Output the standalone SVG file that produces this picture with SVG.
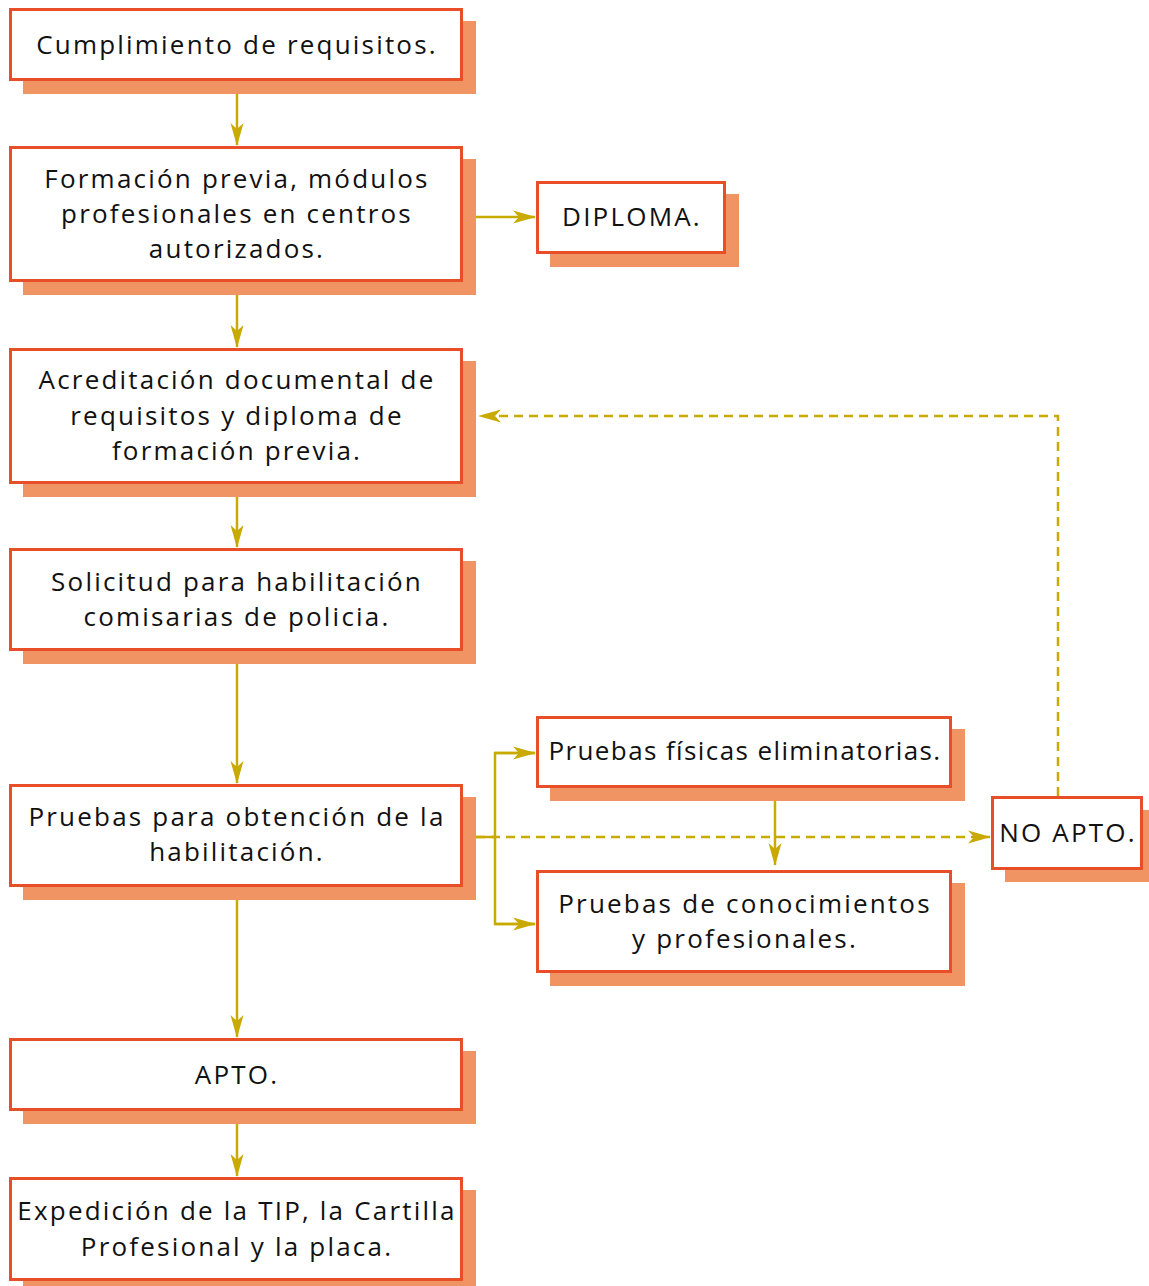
<svg xmlns="http://www.w3.org/2000/svg" width="1149" height="1286" viewBox="0 0 1149 1286">
<style>
.sh{fill:#f19463}
.bx{fill:#fff;stroke:#e84e27;stroke-width:3}
.t{font-family:"Open Sans","DejaVu Sans",sans-serif;font-size:26px;letter-spacing:2.2px;fill:#111;text-anchor:middle}
.c{fill:none;stroke:#c9aa00;stroke-width:2.5}
.d{stroke-dasharray:9 6}
</style>
<defs>
<marker id="ah" markerUnits="userSpaceOnUse" markerWidth="24" markerHeight="16" refX="22" refY="8" orient="auto">
<path d="M0,1.5 L23,8 L0,14.5 L6,8 z" fill="#c9aa00"/>
</marker>
</defs>
<rect width="1149" height="1286" fill="#fff"/>
<g id="connectors">
<line class="c" x1="237" y1="80" x2="237" y2="145" marker-end="url(#ah)"/>
<line class="c" x1="476" y1="217" x2="535" y2="217" marker-end="url(#ah)"/>
<line class="c" x1="237" y1="295" x2="237" y2="347" marker-end="url(#ah)"/>
<line class="c" x1="237" y1="497" x2="237" y2="547" marker-end="url(#ah)"/>
<line class="c" x1="237" y1="664" x2="237" y2="783" marker-end="url(#ah)"/>
<line class="c" x1="476" y1="837" x2="495" y2="837"/>
<polyline class="c" points="535,753 495,753 495,924 535,924"/>
<line class="c" x1="495" y1="753" x2="535" y2="753" marker-end="url(#ah)"/>
<line class="c" x1="495" y1="924" x2="535" y2="924" marker-end="url(#ah)"/>
<line class="c d" x1="476" y1="837" x2="990" y2="837" marker-end="url(#ah)"/>
<line class="c" x1="775" y1="801" x2="775" y2="865" marker-end="url(#ah)"/>
<polyline class="c d" points="1058,796 1058,416 479,416" marker-end="url(#ah)"/>
<line class="c" x1="237" y1="900" x2="237" y2="1037" marker-end="url(#ah)"/>
<line class="c" x1="237" y1="1124" x2="237" y2="1176" marker-end="url(#ah)"/>
</g>
<g id="n1">
<rect class="sh" x="23" y="21" width="453" height="73"/>
<rect class="bx" x="10.5" y="9.5" width="451" height="70"/>
<text class="t" x="237" y="54">Cumplimiento de requisitos.</text>
</g>
<g id="n2">
<rect class="sh" x="23" y="159" width="453" height="136"/>
<rect class="bx" x="10.5" y="147.5" width="451" height="133"/>
<text class="t" x="237" y="188">Formación previa, módulos</text>
<text class="t" x="237" y="223">profesionales en centros</text>
<text class="t" x="237" y="258">autorizados.</text>
</g>
<g id="diploma">
<rect class="sh" x="550" y="194" width="189" height="73"/>
<rect class="bx" x="537.5" y="182.5" width="187" height="70"/>
<text class="t" x="632" y="226">DIPLOMA.</text>
</g>
<g id="n3">
<rect class="sh" x="23" y="361" width="453" height="136"/>
<rect class="bx" x="10.5" y="349.5" width="451" height="133"/>
<text class="t" x="237" y="389">Acreditación documental de</text>
<text class="t" x="237" y="425">requisitos y diploma de</text>
<text class="t" x="237" y="460">formación previa.</text>
</g>
<g id="n4">
<rect class="sh" x="23" y="561" width="453" height="103"/>
<rect class="bx" x="10.5" y="549.5" width="451" height="100"/>
<text class="t" x="237" y="591">Solicitud para habilitación</text>
<text class="t" x="237" y="626">comisarias de policia.</text>
</g>
<g id="n5">
<rect class="sh" x="23" y="797" width="453" height="103"/>
<rect class="bx" x="10.5" y="785.5" width="451" height="100"/>
<text class="t" x="237" y="826">Pruebas para obtención de la</text>
<text class="t" x="237" y="861">habilitación.</text>
</g>
<g id="fisicas">
<rect class="sh" x="550" y="729" width="415" height="72"/>
<rect class="bx" x="537.5" y="717.5" width="413" height="69"/>
<text class="t" x="745" y="760" style="letter-spacing:1.4px">Pruebas físicas eliminatorias.</text>
</g>
<g id="conocimientos">
<rect class="sh" x="550" y="883" width="415" height="103"/>
<rect class="bx" x="537.5" y="871.5" width="413" height="100"/>
<text class="t" x="745" y="913">Pruebas de conocimientos</text>
<text class="t" x="745" y="948">y profesionales.</text>
</g>
<g id="noapto">
<rect class="sh" x="1005" y="810" width="144" height="72"/>
<rect class="bx" x="992.5" y="797.5" width="149" height="71"/>
<text class="t" x="1068" y="842">NO APTO.</text>
</g>
<g id="apto">
<rect class="sh" x="23" y="1051" width="453" height="73"/>
<rect class="bx" x="10.5" y="1039.5" width="451" height="70"/>
<text class="t" x="237" y="1084">APTO.</text>
</g>
<g id="expedicion">
<rect class="sh" x="23" y="1190" width="453" height="96"/>
<rect class="bx" x="10.5" y="1178.5" width="451" height="101"/>
<text class="t" x="237" y="1220">Expedición de la TIP, la Cartilla</text>
<text class="t" x="237" y="1256">Profesional y la placa.</text>
</g>
</svg>
